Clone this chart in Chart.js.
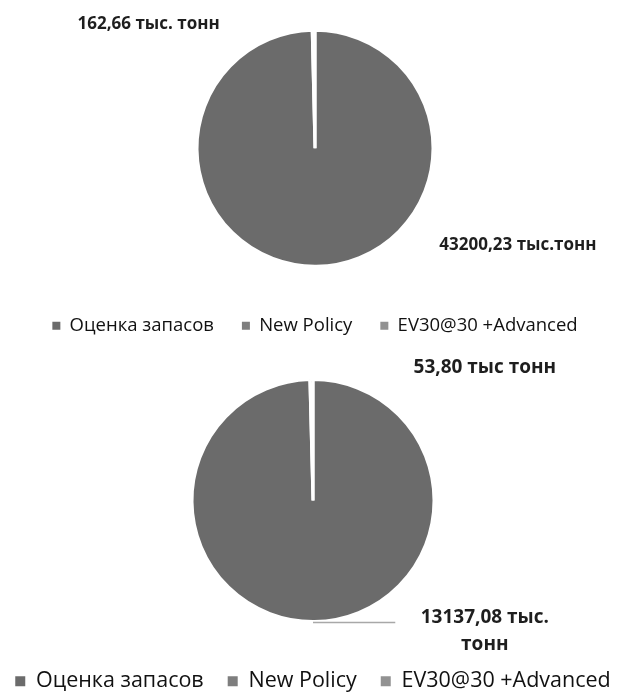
<!DOCTYPE html>
<html lang="ru">
<head>
<meta charset="utf-8">
<title>Оценка запасов</title>
<script src="https://cdn.jsdelivr.net/npm/chart.js@4.4.1/dist/chart.umd.min.js"></script>
<style>
  html, body { margin: 0; padding: 0; background: #fff; overflow: hidden; }
  #page { position: relative; width: 626px; height: 695px; overflow: hidden; background: #fff; }
  #page canvas { position: absolute; }
</style>
</head>
<body>
<div id="page">
  <canvas id="topPie" width="626" height="345" style="top:0;left:0"></canvas>
  <canvas id="bottomPie" width="680" height="360" style="top:342px;left:-27px"></canvas>
</div>
<script>
// Categories shared by both pies
const categories = ['Оценка запасов', 'New Policy', 'EV30@30 +Advanced'];

// Values, thousand tonnes
const topValues = [43200.23, 162.66, 0];
const bottomValues = [13137.08, 53.80, 0];

// Value captions (big slice first, then small slice)
const topLabels = ['43200,23 тыс.тонн', '162,66 тыс. тонн'];
const bottomLabels = [['13137,08 тыс.', 'тонн'], ['53,80 тыс тонн']];

const sliceColors = ['#6b6b6b', '#7e7e7e', '#929292'];

// Draws the value captions around the pie, positioned relative to the pie radius
const valueLabels = {
  id: 'valueLabels',
  afterDatasetsDraw(chart, _args, opts) {
    const arc = chart.getDatasetMeta(0).data[0];
    if (!arc) return;
    const cx = arc.x, cy = arc.y, r = arc.outerRadius;
    const ctx = chart.ctx;
    ctx.save();
    if (opts.leader) {
      const L = opts.leader;
      ctx.strokeStyle = L.color;
      ctx.lineWidth = L.width;
      ctx.beginPath();
      ctx.moveTo(cx + L.x0 * r, cy + L.dy * r + L.shift);
      ctx.lineTo(cx + L.x1 * r, cy + L.dy * r + L.shift);
      ctx.stroke();
    }
    ctx.font = opts.font;
    ctx.fillStyle = opts.color;
    ctx.textAlign = 'center';
    ctx.textBaseline = 'middle';
    opts.items.forEach(item => {
      [].concat(item.text).forEach((line, i) => {
        ctx.fillText(line, cx + item.dx * r, cy + item.dy * r + i * opts.lineGap);
      });
    });
    ctx.restore();
  }
};

function legendItems(chart) {
  return Chart.overrides.pie.plugins.legend.labels.generateLabels(chart)
    .map(item => Object.assign(item, { lineWidth: 0, strokeStyle: item.fillStyle }));
}

function makePie(id, values, cfg) {
  return new Chart(document.getElementById(id), {
    type: 'pie',
    data: {
      labels: categories,
      datasets: [{
        data: values,
        backgroundColor: sliceColors,
        borderColor: '#ffffff',
        borderWidth: 3,
        radius: cfg.radius
      }]
    },
    options: {
      responsive: false,
      animation: false,
      layout: { padding: cfg.padding },
      plugins: {
        tooltip: { enabled: false },
        legend: {
          position: 'bottom',
          labels: {
            generateLabels: legendItems,
            color: '#111111',
            font: { family: '"Open Sans", "Noto Sans", sans-serif', size: cfg.legendSize },
            boxWidth: cfg.box,
            boxHeight: cfg.box,
            padding: cfg.legendPad
          }
        },
        valueLabels: {
          font: cfg.labelFont,
          color: '#1e1e1e',
          lineGap: cfg.lineGap || 0,
          items: cfg.items,
          leader: cfg.leader || null
        }
      }
    },
    plugins: [valueLabels]
  });
}

makePie('topPie', topValues, {
  radius: 118,
  padding: { top: 8, bottom: 0, left: 4, right: 0 },
  legendSize: 18.5,
  box: 8,
  legendPad: 28,
  labelFont: 'bold 17px "Open Sans", "Noto Sans", sans-serif',
  items: [
    { text: topLabels[0], dx: 1.72, dy: 0.82 },
    { text: topLabels[1], dx: -1.41, dy: -1.05 }
  ]
});

makePie('bottomPie', bottomValues, {
  radius: 121,
  padding: { top: 12.5, bottom: 0, left: 0, right: 0 },
  legendSize: 21.5,
  box: 10,
  legendPad: 24,
  labelFont: 'bold 19px "Open Sans", "Noto Sans", sans-serif',
  lineGap: 27,
  items: [
    { text: bottomLabels[0], dx: 1.42, dy: 0.97 },
    { text: bottomLabels[1], dx: 1.42, dy: -1.10 }
  ],
  leader: { x0: 0, x1: 0.68, dy: 1, shift: 1, color: '#a8a8a8', width: 1.5 }
});
</script>
</body>
</html>
